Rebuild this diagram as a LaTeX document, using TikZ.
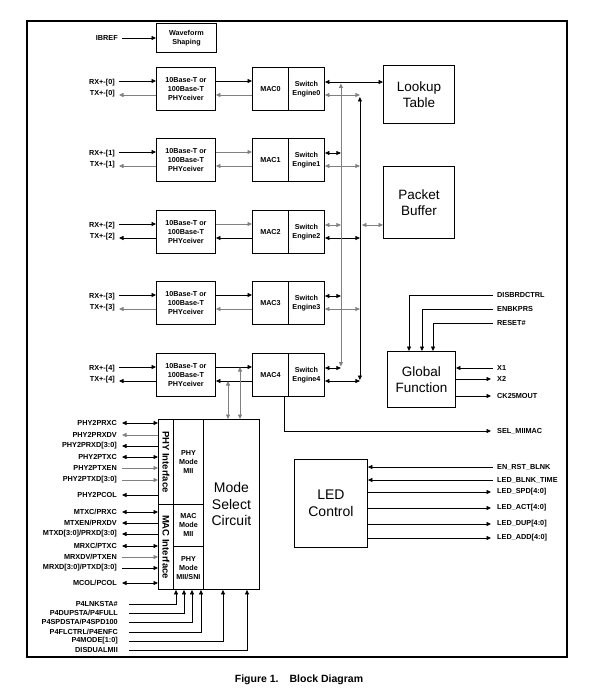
\documentclass[tikz,border=0pt]{standalone}
\usepackage{fontspec}
\setmainfont{Liberation Sans}
\usetikzlibrary{arrows.meta,calc}
\definecolor{ln}{gray}{0.5}
\begin{document}
\begin{tikzpicture}[x=1pt,y=-1pt,
  blk/.style={draw, line width=0.9pt, inner sep=0pt, align=center, anchor=north west, font=\bfseries\fontsize{7.2}{9}\selectfont},
  bigblk/.style={blk, font=\fontsize{13.5}{15.5}\selectfont},
  lab/.style={inner sep=0pt, font=\bfseries\fontsize{7.3}{8}\selectfont},
  con/.style={line width=0.75pt},
  tipr/.style={-{Triangle[length=4.5pt,width=4pt]}},
  tipl/.style={{Triangle[length=4.5pt,width=4pt]}-},
  tipd/.style={{Triangle[length=4.5pt,width=4pt]}-{Triangle[length=4.5pt,width=4pt]}},
]
\useasboundingbox (0,0) rectangle (591,695);
\draw[line width=1.1pt] (27,21) rectangle (567,657);

% waveform
\node[blk, minimum width=60, minimum height=29] (wave) at (156,23) {Waveform\\Shaping};
\node[lab, anchor=east] (ibref) at (118,38) {IBREF};
\draw[con,tipr] ([xshift=4pt]ibref.east) -- (ibref.east -| wave.west);

% rows
\foreach \i/\t/\ca/\cb/\cc in {0/67/black/ln/ln, 1/138/ln/ln/ln, 2/210/ln/black/black, 3/281/black/ln/ln, 4/353/black/black/black}{
  \node[blk, minimum width=59, minimum height=43] (phy\i) at (156,\t) {10Base-T or\\100Base-T\\PHYceiver};
  \node[blk, minimum width=36, minimum height=43] (mac\i) at (252,\t) {MAC\i};
  \node[blk, minimum width=36, minimum height=43] (se\i) at (288,\t) {Switch\\Engine\i};
  \node[lab, anchor=east] (rx\i) at (115,{\t+16}) {RX+-[\i]};
  \node[lab, anchor=east] (tx\i) at (115,{\t+26.5}) {TX+-[\i]};
  \coordinate (rs\i) at (119,{\t+14});
  \coordinate (te\i) at (119,{\t+28});
  \coordinate (su\i) at ([yshift=-15pt]se\i.north east);
  \coordinate (sl\i) at ([yshift=-28pt]se\i.north east);
  \draw[con,tipr] (rs\i) -- (rs\i -| phy\i.west);
  \draw[con,tipr,\cc] (te\i -| phy\i.west) -- (te\i);
  \draw[con,tipr,\ca] (rs\i -| phy\i.east) -- (rs\i -| mac\i.west);
  \draw[con,tipr,\cb] (te\i -| mac\i.west) -- (te\i -| phy\i.east);
}

% lookup and packet buffer
\node[bigblk, minimum width=71, minimum height=58] (look) at (383,65) {Lookup\\Table};
\node[bigblk, minimum width=71, minimum height=72] (pb) at (383,166) {Packet\\Buffer};

% switch engine connections
\draw[con,tipd] (su0) -- (su0 -| look.west);
\draw[con,ln,tipd] (sl0) -- ++(35,0);
\draw[con,tipd] (su1) -- ++(16,0);
\draw[con,ln,tipd] (sl1) -- ++(35,0);
\draw[con,ln,tipd] (su2) -- ++(16,0);
\draw[con,tipd] (sl2) -- ++(35,0);
\draw[con,tipd] (su3) -- ++(16,0);
\draw[con,ln,tipd] (sl3) -- ++(35,0);
\draw[con,tipd] (su4) -- ++(16,0);
\draw[con,tipd] (sl4) -- ++(35,0);
% buses
\draw[con,ln,tipd] ([xshift=16pt,yshift=-1.5pt]su0) -- ([xshift=16pt,yshift=1.5pt]su4);
\draw[con,tipd] ([xshift=35pt,yshift=-2pt]sl0) -- ([xshift=35pt,yshift=1pt]sl4);
\coordinate (pbc) at ([xshift=37pt]su2);
\draw[con,ln,tipd] (pbc) -- (pbc -| pb.west);

% global function
\node[bigblk, minimum width=68, minimum height=56] (glob) at (387,351) {Global\\Function};
\node[lab, anchor=west] (dis) at (497,295) {DISBRDCTRL};
\node[lab, anchor=west] (enb) at (497,309) {ENBKPRS};
\node[lab, anchor=west] (rst) at (497,323) {RESET\#};
\draw[con,tipr] ([xshift=-4pt]dis.west) -| ([xshift=22pt]glob.north west);
\draw[con,tipr] ([xshift=-4pt]enb.west) -| ([xshift=35pt]glob.north west);
\draw[con,tipr] ([xshift=-4pt]rst.west) -| ([xshift=46pt]glob.north west);
\node[lab, anchor=west] (xa) at (497,368) {X1};
\node[lab, anchor=west] (xb) at (497,379) {X2};
\node[lab, anchor=west] (ck) at (497,396) {CK25MOUT};
\draw[con,tipr] ([xshift=-4pt]xa.west) -- (xa.west -| glob.east);
\draw[con,tipr] (xb.west -| glob.east) -- ([xshift=-6pt]xb.west);
\draw[con,tipr] (ck.west -| glob.east) -- ([xshift=-6pt]ck.west);

% SEL_MIIMAC
\node[lab, anchor=west] (sel) at (497,431) {SEL\_MIIMAC};
\draw[con,tipr] ([xshift=-5pt]mac4.south east) |- ([xshift=-6pt]sel.west);

% LED control
\node[bigblk, minimum width=73, minimum height=88, font=\fontsize{14}{17}\selectfont] (led) at (294,459) {LED\\Control};
\node[lab, anchor=west] (enr) at (497,467) {EN\_RST\_BLNK};
\node[lab, anchor=west] (lbt) at (497,480) {LED\_BLNK\_TIME};
\node[lab, anchor=west] (lspd) at (497,492) {LED\_SPD[4:0]};
\node[lab, anchor=west] (lact) at (497,508) {LED\_ACT[4:0]};
\node[lab, anchor=west] (ldup) at (497,524) {LED\_DUP[4:0]};
\node[lab, anchor=west] (ladd) at (497,538) {LED\_ADD[4:0]};
\draw[con,tipr] ([xshift=-4pt]enr.west) -- (enr.west -| led.east);
\draw[con,tipr] ([xshift=-4pt]lbt.west) -- (lbt.west -| led.east);
\foreach \q in {lspd,lact,ldup,ladd}{
  \draw[con,tipr] (\q.west -| led.east) -- ([xshift=-6pt]\q.west);
}

% mode select circuit
\node[blk, minimum width=15, minimum height=85] (phyif) at (158,419) {};
\node[blk, minimum width=15, minimum height=85] (macif) at (158,504) {};
\node[blk, minimum width=30, minimum height=85] (pmii) at (173,419) {PHY\\Mode\\MII};
\node[blk, minimum width=30, minimum height=42] (mmii) at (173,504) {MAC\\Mode\\MII};
\node[blk, minimum width=30, minimum height=43] (psni) at (173,546) {PHY\\Mode\\MII/SNI};
\node[bigblk, minimum width=56, minimum height=170, font=\fontsize{14}{16.5}\selectfont] (mode) at (203,419) {Mode\\Select\\Circuit};
\node[rotate=-90, inner sep=0pt, font=\bfseries\fontsize{9.5}{11}\selectfont] (phyift) at (phyif.center) {PHY Interface};
\node[rotate=-90, inner sep=0pt, font=\bfseries\fontsize{9.5}{11}\selectfont] (macift) at (macif.center) {MAC Interface};

% MAC4 to mode select
\coordinate (va) at ([xshift=25pt]mode.north west);
\coordinate (vb) at ([xshift=37pt]mode.north west);
\draw[con,ln,tipd] (va) -- (va |- te4);
\draw[con,ln,tipd] (vb) -- (vb |- rs4);

% left signals
\foreach \n/\s/\y/\d/\b/\c in {
  1/PHY2PRXC/423/tipd/phyif/black,
  2/PHY2PRXDV/435/tipl/phyif/ln,
  3/{PHY2PRXD[3:0]}/446/tipl/phyif/black,
  4/PHY2PTXC/457/tipd/phyif/black,
  5/PHY2PTXEN/468/tipr/phyif/ln,
  6/{PHY2PTXD[3:0]}/480/tipr/phyif/ln,
  7/PHY2PCOL/495/tipl/phyif/black,
  8/{MTXC/PRXC}/512/tipd/macif/black,
  9/{MTXEN/PRXDV}/523/tipl/macif/black,
  10/{MTXD[3:0]/PRXD[3:0]}/534/tipl/macif/black,
  11/{MRXC/PTXC}/546/tipd/macif/black,
  12/{MRXDV/PTXEN}/557/tipr/macif/ln,
  13/{MRXD[3:0]/PTXD[3:0]}/568/tipr/macif/black,
  14/{MCOL/PCOL}/583/tipd/macif/black}{
  \node[lab, anchor=east] (m\n) at (117,\y) {\s};
  \draw[con,\d,\c] ([xshift=5pt]m\n.east) -- (m\n.east -| \b.west);
}

% bottom signals
\foreach \n/\s/\y/\g/\dx in {
  1/{P4LNKSTA\#}/604/psni/3,
  2/{P4DUPSTA/P4FULL}/613/psni/11,
  3/{P4SPDSTA/P4SPD100}/622/psni/19,
  4/{P4FLCTRL/P4ENFC}/632/psni/28,
  5/{P4MODE[1:0]}/641/mode/20,
  6/{DISDUALMII}/650/mode/44}{
  \node[lab, anchor=east] (p\n) at (118,\y) {\s};
  \draw[con,tipr] ([xshift=11pt]p\n.east) -| ([xshift=\dx pt]\g.south west);
}

% caption
\node[inner sep=0pt, font=\bfseries\fontsize{10.5}{12}\selectfont] (cap) at (299,680) {Figure 1.\hspace{11pt}Block Diagram};
\end{tikzpicture}
\end{document}
